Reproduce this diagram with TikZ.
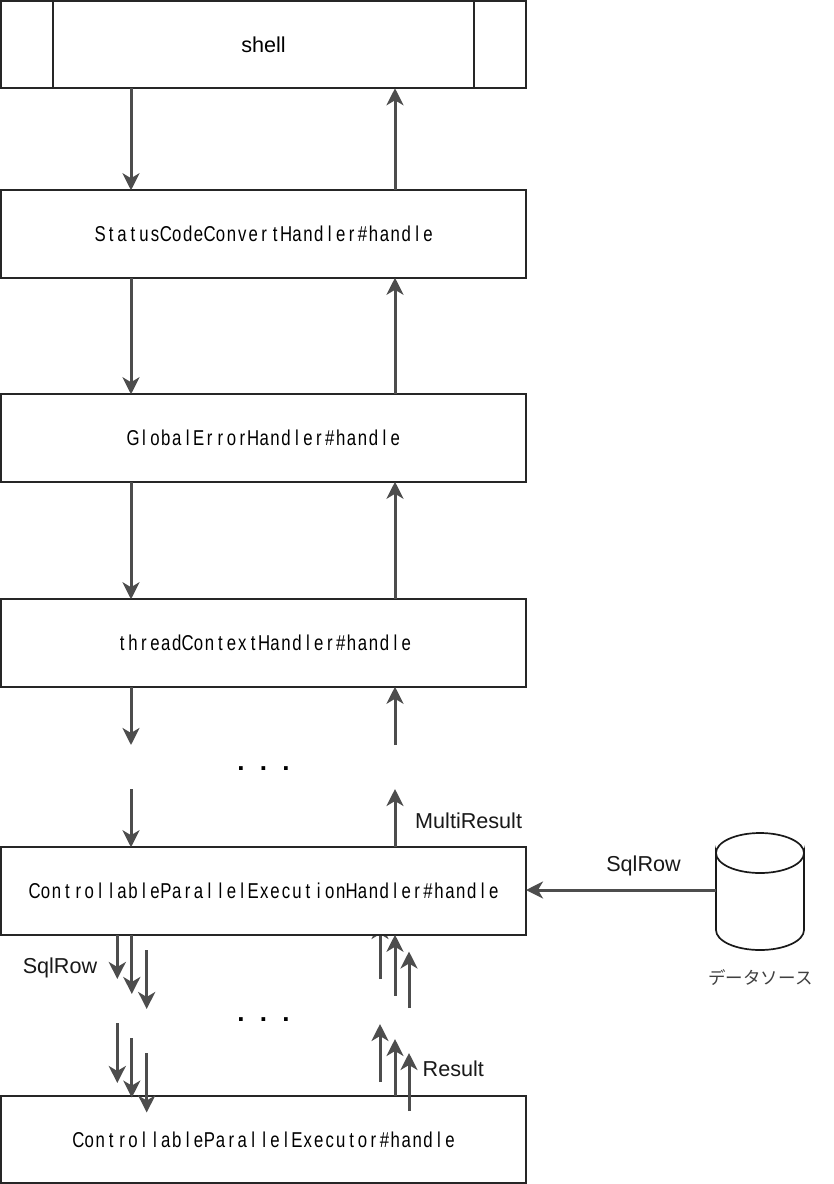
\documentclass[tikz,border=0pt]{standalone}
\usepackage{fontspec}
\setmainfont{Liberation Sans}
\newfontfamily\cjkfam{Noto Sans CJK JP}
\newfontfamily\narrowfam[FakeStretch=0.78]{Liberation Sans}
\usetikzlibrary{arrows.meta}
\makeatletter
\newcommand{\fixedpitch}[1]{{\fontsize{21.5}{25}\narrowfam\selectfont\hspace{1.5pt}\raisebox{-0.7pt}{\@tfor\nxt:=#1\do{\makebox[10.93pt][c]{\nxt}}}}}
\makeatother
\definecolor{flowgray}{HTML}{4D4D4D}
\tikzset{
  box/.style={draw=black!85,line width=1.7pt,fill=white,minimum width=525pt,minimum height=87.5pt,inner sep=0pt,outer sep=0pt,anchor=center},
  flow/.style={draw=flowgray,line width=3pt,-{Stealth[length=17pt,width=17pt,inset=5pt]}},
  lab/.style={font=\fontsize{21.6}{25}\selectfont,text=black!90,inner sep=0pt},
  dots/.style={font=\fontsize{26}{30}\bfseries\selectfont,inner sep=0pt},
}
\begin{document}
\begin{tikzpicture}[x=1pt,y=-1pt]
\useasboundingbox[fill=white] (0,0) rectangle (834,1184);
% guides
\coordinate (L) at (131,0);
\coordinate (R) at (395,0);
\coordinate (d1) at (117.3,0);
\coordinate (d2) at (131.8,0);
\coordinate (u2) at (395,0);
% arrow hidden behind the handler box
\coordinate (a1t) at (380,979);
\coordinate (a1h) at (380,922);
\draw[flow] (a1t) -- (a1h);
% boxes
\node[box] (shell) at (263.5,44.5) {\fontsize{21.6}{25}\selectfont shell};
\node[box] (status) at (263.5,234) {\fixedpitch{StatusCodeConvertHandler\#handle}};
\node[box] (global) at (263.5,438) {\fixedpitch{GlobalErrorHandler\#handle}};
\node[box] (thread) at (263.5,643) {\fixedpitch{threadContextHandler\#handle}};
\node[box] (cpe) at (263.5,891) {\fixedpitch{ControllableParallelExecutionHandler\#handle}};
\node[box] (exec) at (263.5,1139.5) {\fixedpitch{ControllableParallelExecutor\#handle}};
\coordinate (s1) at (53,0);
\coordinate (s2) at (474,0);
\draw[black!85,line width=1.7pt] (s1 |- shell.north) -- (s1 |- shell.south);
\draw[black!85,line width=1.7pt] (s2 |- shell.north) -- (s2 |- shell.south);
% main chain
\draw[flow] (L |- shell.south) -- (L |- status.north);
\draw[flow] (R |- status.north) -- (R |- shell.south);
\draw[flow] (L |- status.south) -- (L |- global.north);
\draw[flow] (R |- global.north) -- (R |- status.south);
\draw[flow] (L |- global.south) -- (L |- thread.north);
\draw[flow] (R |- thread.north) -- (R |- global.south);
% broken chain
\coordinate (t1) at (131,745);
\coordinate (t2) at (395,745);
\coordinate (c1) at (131,789);
\coordinate (c2) at (395,789);
\draw[flow] (L |- thread.south) -- (t1);
\draw[flow] (t2) -- (R |- thread.south);
\draw[flow] (c1) -- (L |- cpe.north);
\draw[flow] (R |- cpe.north) -- (c2);
\node[dots] (dotsa) at (263.5,769) {.\hspace{15.2pt}.\hspace{15.2pt}.};
\node[lab,anchor=west] (mr) at (415,820.5) {MultiResult};
% data source
\draw[black!90,line width=1.7pt,fill=white] (716,853) arc[start angle=180,end angle=0,x radius=44,y radius=20] -- (804,930) arc[start angle=0,end angle=180,x radius=44,y radius=20] -- cycle;
\draw[black!90,line width=1.7pt] (716,853) arc[start angle=180,end angle=360,x radius=44,y radius=20];
\coordinate (dbw) at (716,890);
\draw[flow] (dbw) -- (cpe.east |- dbw);
\node[lab] (sqla) at (643.5,866) {SqlRow};
\node[inner sep=0pt,text=black!75,font=\fontsize{17.5}{21}\cjkfam\selectfont] (db) at (760.5,978) {データソース};
% lower down arrows
\draw[flow] (d1 |- cpe.south) -- (117.3,979);
\draw[flow] (d2 |- cpe.south) -- (131.8,994);
\draw[flow] (146.7,950) -- (146.7,1009);
\draw[flow] (117.3,1023) -- (117.3,1083);
\draw[flow] (131.8,1038) -- (131.8,1097.6);
\draw[flow] (146.7,1053) -- (146.7,1112.5);
% lower up arrows
\draw[flow] (395,995.5) -- (u2 |- cpe.south);
\draw[flow] (409,1008) -- (409,951.5);
\draw[flow] (380,1082) -- (380,1024);
\draw[flow] (u2 |- exec.north) -- (395,1039);
\draw[flow] (409,1111) -- (409,1053);
\node[dots] (dotsb) at (263.5,1020) {.\hspace{15.2pt}.\hspace{15.2pt}.};
\node[lab] (sqlb) at (60,968) {SqlRow};
\node[lab,anchor=west] (res) at (422.5,1069) {Result};
\end{tikzpicture}
\end{document}
